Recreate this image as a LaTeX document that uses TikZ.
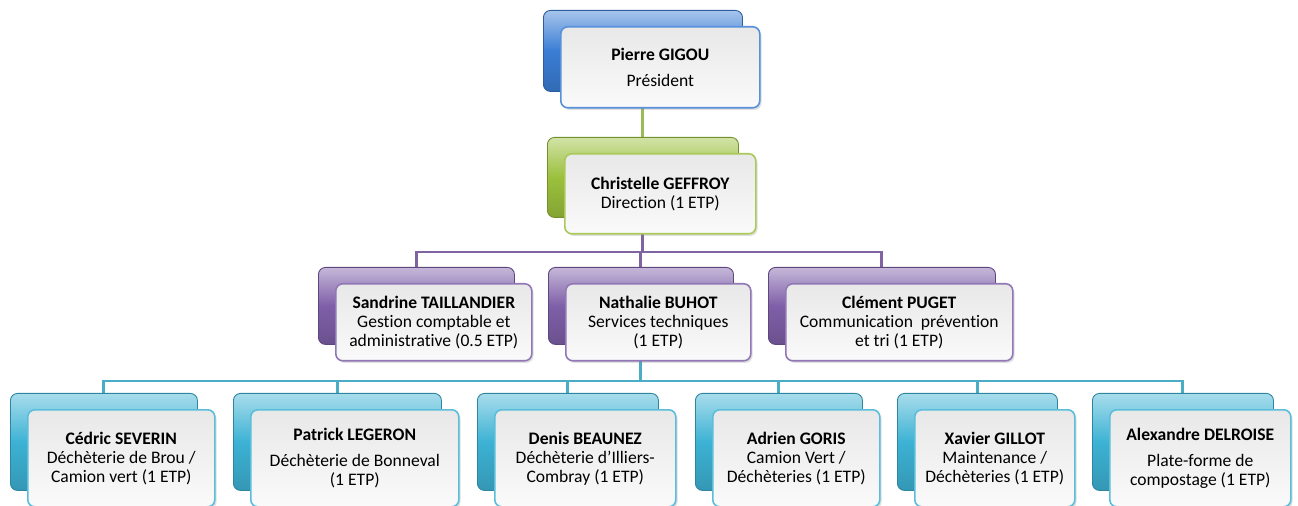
\documentclass[tikz,border=0pt]{standalone}
\usepackage{fontspec}
\setmainfont[Ligatures=NoCommon]{Carlito}
\usetikzlibrary{calc}
\usetikzlibrary{backgrounds}
\usetikzlibrary{shadows}
\definecolor{orgblue}{HTML}{3A7DD4}
\definecolor{orggreen}{HTML}{9BC03C}
\definecolor{orgpurple}{HTML}{7E5FA8}
\definecolor{orgaqua}{HTML}{3DB2D4}
\definecolor{linkgreen}{HTML}{9BBB59}
\definecolor{linkpurple}{HTML}{8064A2}
\definecolor{linkaqua}{HTML}{4BACC6}
\tikzset{
	backcard/.style={draw=#1!75!black, line width=0.5pt, rounded corners=4pt,
		top color=#1!45!white, bottom color=#1!85!black, middle color=#1},
	frontcard/.style={draw=#1!85!white, line width=0.9pt, rounded corners=4pt,
		top color=black!9!white, bottom color=black!2!white,
		drop shadow={opacity=0.25, shadow xshift=1pt, shadow yshift=-1.2pt}},
	cardtext/.style={align=center, font=\fontsize{10}{10.8}\selectfont, inner sep=0pt},
	link/.style={draw=#1, line width=1.7pt}
}
\newcommand{\orgcard}[7] % name, left x in px, top y in px, width in px, height in px, colour, text
{
	% coloured card behind
	\node[backcard=#6, minimum width=#4*0.02cm, minimum height=#5*0.02cm, anchor=north west, inner sep=0pt] (#1) at (#2,#3) {};
	% light card in front
	\node[frontcard=#6, minimum width=#4*0.02cm, minimum height=#5*0.02cm, anchor=north west, inner sep=0pt] (#1 f) at ([shift={(17,16)}]#1.north west) {};
	% the name and the job
	\node[cardtext] (#1 t) at (#1 f.center) {#7};
}

\begin{document}
\begin{tikzpicture}[x=0.02cm, y=-0.02cm]
	% 1298 x 506 px, 1 px = 0.02 cm
	\useasboundingbox (0,0) rectangle (1298,506);

	\orgcard{pierre}{543}{10}{199}{81}{orgblue}{\textbf{Pierre GIGOU}\\[4pt] Président};
	\orgcard{christelle}{547}{137}{191}{80}{orggreen}{\textbf{Christelle GEFFROY}\\ Direction (1 ETP)};

	\orgcard{sandrine}{318}{267}{196}{77}{orgpurple}{\textbf{Sandrine TAILLANDIER}\\ Gestion comptable et\\ administrative (0.5 ETP)};
	\orgcard{nathalie}{548}{267}{185}{77}{orgpurple}{\textbf{Nathalie BUHOT}\\ Services techniques\\ (1 ETP)};
	\orgcard{clement}{768}{267}{227}{77}{orgpurple}{\textbf{Clément PUGET}\\ Communication~~prévention\\ et tri (1 ETP)};

	\orgcard{cedric}{10}{393}{187}{97}{orgaqua}{\textbf{Cédric SEVERIN}\\ Déchèterie de Brou /\\ Camion vert (1 ETP)};
	\orgcard{patrick}{233}{393}{208}{97}{orgaqua}{\textbf{Patrick LEGERON}\\[4pt] Déchèterie de Bonneval\\ (1 ETP)};
	\orgcard{denis}{477}{393}{181}{97}{orgaqua}{\textbf{Denis BEAUNEZ}\\ Déchèterie d’Illiers-\\ Combray (1 ETP)};
	\orgcard{adrien}{695}{393}{167}{97}{orgaqua}{\textbf{Adrien GORIS}\\ Camion Vert /\\ Déchèteries (1 ETP)};
	\orgcard{xavier}{897}{393}{160}{97}{orgaqua}{\textbf{Xavier GILLOT}\\ Maintenance /\\ Déchèteries (1 ETP)};
	\orgcard{alexandre}{1092}{393}{181}{97}{orgaqua}{\textbf{Alexandre DELROISE}\\[4pt] Plate-forme de\\ compostage (1 ETP)};

	% connectors
	\coordinate (bus3) at (642,252);
	\coordinate (bus4) at (641,381);
	\begin{scope}[on background layer]
		\draw[link=linkgreen] (pierre) -- (christelle);
		\foreach \n in {sandrine, nathalie, clement}
			\draw[link=linkpurple] (christelle) -- (christelle |- bus3) -| (\n.north);
		\foreach \n in {cedric, patrick, denis, adrien, xavier, alexandre}
			\draw[link=linkaqua] (nathalie) -- (nathalie |- bus4) -| (\n.north);
	\end{scope}
\end{tikzpicture}
\end{document}
